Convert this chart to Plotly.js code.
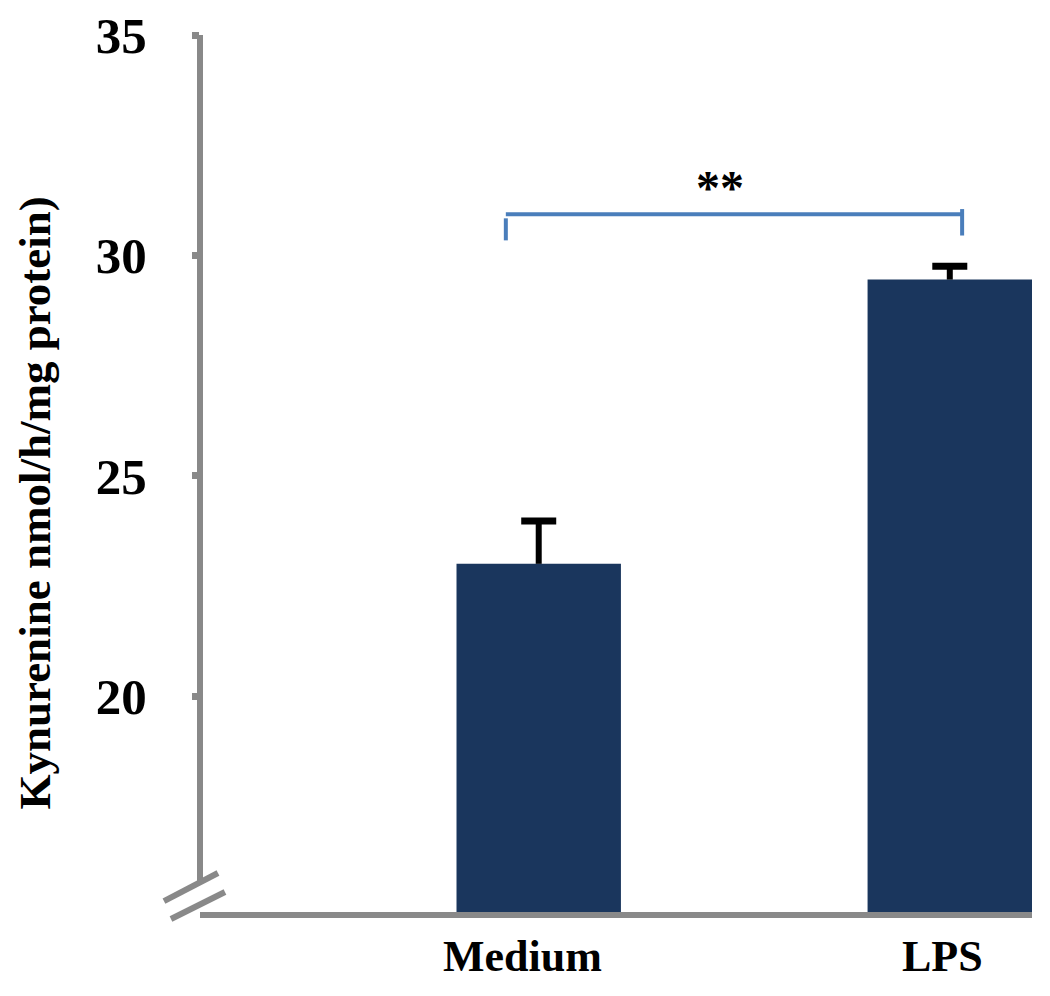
<!DOCTYPE html>
<html>
<head>
<meta charset="utf-8">
<script src="https://cdn.plot.ly/plotly-3.0.1.min.js"></script>
<style>
  html, body { margin: 0; padding: 0; background: #fff; }
  #chart { width: 1050px; height: 996px; }
</style>
</head>
<body>
<div id="chart"></div>
<script>
// values
var groups = ['Medium', 'LPS'];
var kynurenine = [23.0, 29.45];
var errUp = [0.97, 0.3];
var yTicks = [20, 25, 30, 35];
var sigLabel = '**';

var axisGrey = '#898989';
var barBlue = '#1a365d';
var bracketBlue = '#4a7ebb';
var serif = 'Liberation Serif, Times New Roman, serif';

var xPos = groups.map((_, i) => i);

var bars = {
    x: xPos,
    y: kynurenine,
    type: 'bar',
    width: 0.4,
    marker: { color: barBlue },
    hoverinfo: 'none'
};

// error bars only go up and have a single cap, so draw them by hand
var stemX = [], stemY = [];
kynurenine.forEach((v, i) => {
    stemX.push(i, i, null);
    stemY.push(v, v + errUp[i], null);
});
var stems = {
    x: stemX,
    y: stemY,
    type: 'scatter',
    mode: 'lines',
    line: { color: '#000', width: 6 },
    hoverinfo: 'none'
};
var caps = {
    x: xPos,
    y: kynurenine.map((v, i) => v + errUp[i]),
    type: 'scatter',
    mode: 'markers',
    marker: { symbol: 'line-ew', size: 25, line: { color: '#000', width: 7 } },
    hoverinfo: 'none'
};

var yRange = [15.1, 35];

// significance bracket between the two bars
var left = 0 - 0.08, right = 1 + 0.03;
var shapes = [
    { type: 'line', xref: 'x', yref: 'y', x0: left, x1: right, y0: 30.93, y1: 30.93,
      line: { color: bracketBlue, width: 4 } },
    { type: 'line', xref: 'x', yref: 'y', x0: left, x1: left, y0: 30.84, y1: 30.34,
      line: { color: bracketBlue, width: 4 } },
    { type: 'line', xref: 'x', yref: 'y', x0: right, x1: right, y0: 31.05, y1: 30.45,
      line: { color: bracketBlue, width: 4 } },
    // y axis line stops above the break
    { type: 'line', xref: 'paper', yref: 'y', x0: 0, x1: 0, y0: 15.76, y1: 35,
      line: { color: axisGrey, width: 6 } },
    // break marks
    { type: 'line', xref: 'paper', yref: 'paper', x0: -0.0433, y0: 0.0125, x1: 0.0216, y1: 0.0445,
      line: { color: axisGrey, width: 6 } },
    { type: 'line', xref: 'paper', yref: 'paper', x0: -0.0349, y0: -0.008, x1: 0.030, y1: 0.0228,
      line: { color: axisGrey, width: 6 } }
];

// category labels sit a little left of the bar centres
var labelShift = [-16, -7];
var annotations = groups.map((g, i) => ({
    text: g,
    xref: 'x', yref: 'paper',
    x: i, y: 0,
    xanchor: 'center', yanchor: 'middle',
    xshift: labelShift[i], yshift: -44,
    showarrow: false,
    font: { family: serif, size: 44, color: '#000', weight: 700 }
}));

annotations.push({
    text: 'Kynurenine nmol/h/mg protein)',
    xref: 'paper', yref: 'paper',
    x: -0.198, y: 0.466,
    xanchor: 'center', yanchor: 'middle',
    textangle: -90,
    showarrow: false,
    font: { family: serif, size: 45, color: '#000', weight: 700 }
});
annotations.push({
    text: sigLabel,
    xref: 'x', yref: 'y',
    x: 0.44, y: 31.55,
    xanchor: 'center', yanchor: 'middle',
    showarrow: false,
    font: { family: serif, size: 48, color: '#000', weight: 700 }
});

var layout = {
    width: 1050,
    height: 996,
    margin: { l: 200, r: 18, t: 35, b: 84 },
    paper_bgcolor: '#fff',
    plot_bgcolor: '#fff',
    showlegend: false,
    xaxis: {
        range: [-0.824, 1.2],
        tickvals: xPos,
        showticklabels: false,
        ticks: '',
        showgrid: false,
        zeroline: false,
        showline: true,
        linecolor: axisGrey,
        linewidth: 6
    },
    yaxis: {
        range: yRange,
        tickvals: yTicks,
        ticks: 'outside',
        ticklen: 7,
        tickwidth: 7,
        tickcolor: axisGrey,
        showline: false,
        showgrid: false,
        zeroline: false,
        ticklabelstandoff: 35,
        tickfont: { family: serif, size: 51, color: '#000', weight: 700 }
    },
    yaxis2: {
        range: yRange,
        overlaying: 'y',
        side: 'left',
        tickvals: yTicks,
        ticks: 'inside',
        ticklen: 10,
        tickwidth: 7,
        tickcolor: axisGrey,
        showticklabels: false,
        showline: false,
        showgrid: false,
        zeroline: false
    },
    shapes: shapes,
    annotations: annotations
};

Plotly.newPlot('chart', [bars, stems, caps], layout, { displayModeBar: false, staticPlot: true });
</script>
</body>
</html>
